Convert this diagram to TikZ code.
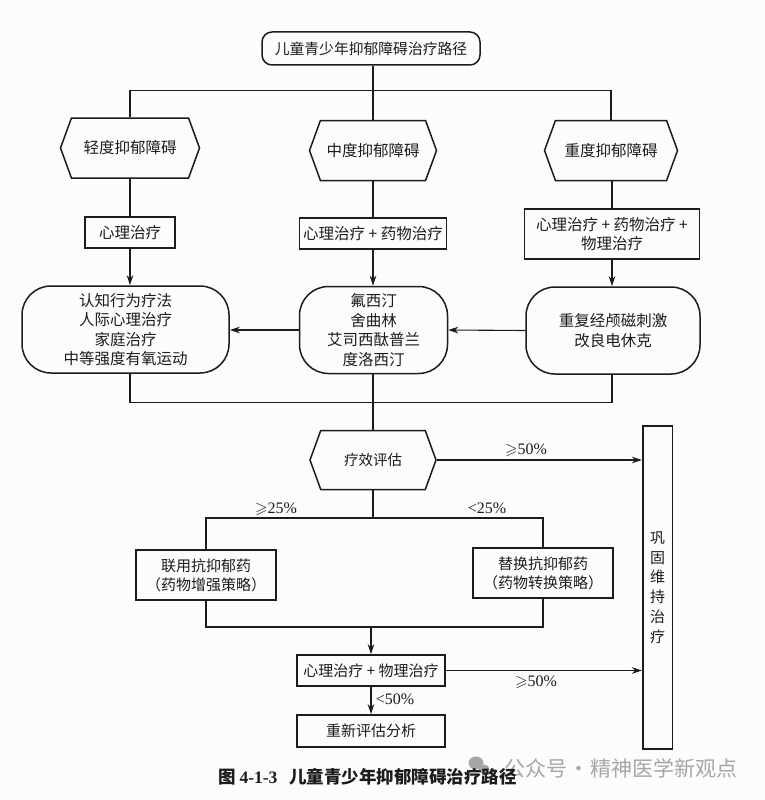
\documentclass[tikz,border=0pt]{standalone}
\usepackage{amssymb}
\usepackage{fontspec}
\setmainfont{Noto Sans CJK SC}
\newfontfamily\numfont{Liberation Serif}
\usetikzlibrary{arrows.meta,shapes.symbols}

\definecolor{paper}{HTML}{FCFCFB}
\definecolor{ink}{HTML}{1C1C1C}
\definecolor{stampgrey}{HTML}{A6A6A6}

\tikzset{
  base/.style={draw=ink,text=ink,line width=1.5pt,align=center,inner sep=0pt,
    font=\fontsize{15.5}{19.5}\selectfont},
  lowbase/.style={base,font=\fontsize{15}{19}\selectfont},
  hexbox/.style={base,shape=signal,signal to=west and east,signal from=nowhere,
    signal pointer angle=140,minimum height=60pt},
  plainbox/.style={base,rectangle},
  lowbox/.style={lowbase,rectangle},
  roundbox/.style={base,rectangle,rounded corners=29pt,minimum height=87pt},
  link/.style={draw=ink,line width=1.1pt},
  arr/.style={link,-{Stealth[length=10pt,width=6.5pt,inset=3pt]}},
  pct/.style={text=ink,inner sep=0pt,font=\fontsize{16}{16}\numfont}
}

\begin{document}
\begin{tikzpicture}[x=1pt,y=-1pt]

\useasboundingbox[fill=paper] (0,0) rectangle (765,800);

% Title and the three grades
\node[base,rectangle,rounded corners=10pt,minimum width=218pt,minimum height=33pt,
  font=\fontsize{14.8}{18}\selectfont] (title) at (371,48.5) {儿童青少年抑郁障碍治疗路径};
\node[hexbox,minimum width=139pt] (hexlight) at (130,148) {轻度抑郁障碍};
\node[hexbox,minimum width=127pt] (hexmid) at (373,150.5) {中度抑郁障碍};
\node[hexbox,minimum width=133pt] (hexsevere) at (611,150.5) {重度抑郁障碍};
\coordinate (split) at (373,90.5);

% Therapy boxes
\node[plainbox,minimum width=90pt,minimum height=31pt] (boxlight) at (130,232.5) {心理治疗};
\node[plainbox,minimum width=147pt,minimum height=31pt] (boxmid) at (373,233.5) {心理治疗 + 药物治疗};
\node[plainbox,minimum width=175pt,minimum height=50pt] (boxsevere) at (612,234) {心理治疗 + 药物治疗 +\\物理治疗};

% Rounded boxes
\node[roundbox,minimum width=207pt] (rlight) at (125.5,329.5)
  {认知行为疗法\\人际心理治疗\\家庭治疗\\中等强度有氧运动};
\node[roundbox,minimum width=148pt] (rmid) at (373.5,330)
  {氟西汀\\舍曲林\\艾司西酞普兰\\度洛西汀};
\node[roundbox,minimum width=174pt] (rsevere) at (613,330.5)
  {重复经颅磁刺激\\改良电休克};
\coordinate (merge) at (373,402.5);

% Evaluation and the consolidation bar
\node[hexbox,minimum width=126pt,minimum height=59pt,font=\fontsize{14.5}{18}\selectfont]
  (hexeval) at (373,460) {疗效评估};
\node[lowbox,minimum width=29.5pt,minimum height=323pt,font=\fontsize{15}{19.7}\selectfont]
  (tallbox) at (657.5,587.5) {巩\\固\\维\\持\\治\\疗};
\coordinate (fork) at (373,518);

% Second line of treatment
\node[lowbox,minimum width=140pt,minimum height=50pt] (boxadd) at (206,575)
  {联用抗抑郁药\\（药物增强策略）};
\node[lowbox,minimum width=140pt,minimum height=50pt] (boxswap) at (543,573)
  {替换抗抑郁药\\（药物转换策略）};
\coordinate (join) at (371,627);
\node[lowbox,minimum width=148pt,minimum height=31pt] (boxtherapy) at (371,670.5)
  {心理治疗 + 物理治疗};
\node[lowbox,minimum width=148pt,minimum height=32pt] (boxagain) at (371,731)
  {重新评估分析};

% Connectors of the upper part
\draw[link] (split |- title.south) -- (split);
\draw[link] (hexlight.north) |- (split) -| (hexsevere.north);
\draw[link] (split) -- (hexmid.north);
\draw[link] (hexlight.south) -- (boxlight.north);
\draw[link] (hexmid.south) -- (boxmid.north);
\draw[link] (hexsevere.south -| boxsevere.north) -- (boxsevere.north);
\draw[arr] (boxlight.south) -- (boxlight.south |- rlight.north);
\draw[arr] (boxmid.south) -- (boxmid.south |- rmid.north);
\draw[arr] (boxsevere.south) -- (boxsevere.south |- rsevere.north);
\draw[arr] (rsevere.west) -- (rmid.east);
\draw[arr] (rmid.west) -- (rmid.west -| rlight.east);
\draw[link] (boxlight.south |- rlight.south) |- (merge) -| (boxsevere.south |- rsevere.south);
\draw[link] (merge |- rmid.south) -- (hexeval.north);

% Connectors of the lower part
\draw[arr] (hexeval.east) -- (hexeval.east -| tallbox.west);
\draw[link] (hexeval.south) -- (fork);
\draw[link] (boxadd.north) |- (fork) -| (boxswap.north);
\draw[link] (boxadd.south) |- (join) -| (boxswap.south);
\draw[arr] (join) -- (boxtherapy.north);
\draw[arr] (boxtherapy.east) -- (boxtherapy.east -| tallbox.west);
\draw[arr] (boxtherapy.south) -- (boxagain.north);

% Percent labels
\node[pct] (labeval) at (526,450) {$\geqslant$50\%};
\node[pct] (labadd) at (276,509) {$\geqslant$25\%};
\node[pct] (labswap) at (487,508) {<25\%};
\node[pct] (labagain) at (395,699) {<50\%};
\node[pct] (labtherapy) at (536,682) {$\geqslant$50\%};

% Watermark under the caption
\fill[stampgrey] (476,763) ellipse (7.5pt and 6.5pt);
\fill[stampgrey] (484,769) ellipse (5.5pt and 4.5pt);
\node[text=stampgrey,inner sep=0pt,font=\fontsize{21}{21}\selectfont] (stamp) at (621,768)
  {公众号\hspace{1pt}·\hspace{1pt}精神医学新观点};

% Caption
\node[text=ink,inner sep=0pt,font=\fontsize{17.5}{20}\selectfont\bfseries] (caption) at (367.5,777)
  {图 {\numfont 4-1-3}\hspace{12pt}儿童青少年抑郁障碍治疗路径};

\end{tikzpicture}
\end{document}
